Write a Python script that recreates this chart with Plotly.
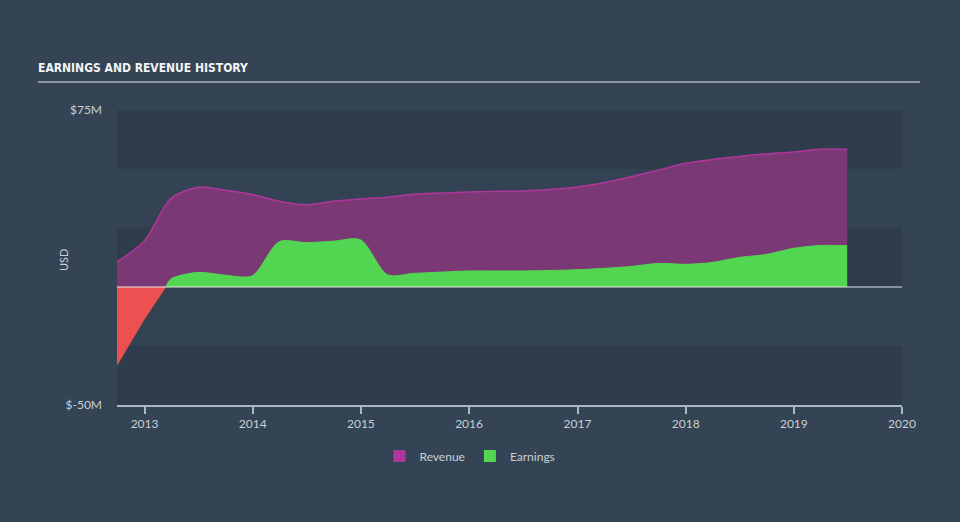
import plotly.graph_objects as go
import pandas as pd

# ---- data (USD millions), quarterly ----
dates = ["2012-09-30", "2012-12-31", "2013-03-31", "2013-06-30", "2013-09-30", "2013-12-31",
         "2014-03-31", "2014-06-30", "2014-09-30", "2014-12-31", "2015-03-31", "2015-06-30",
         "2015-09-30", "2015-12-31", "2016-03-31", "2016-06-30", "2016-09-30", "2016-12-31",
         "2017-03-31", "2017-06-30", "2017-09-30", "2017-12-31", "2018-03-31", "2018-06-30",
         "2018-09-30", "2018-12-31", "2019-03-31", "2019-06-30"]
revenue = [10.6, 19.5, 37.5, 42.3, 41.0, 39.2, 36.3, 34.8, 36.3, 37.3, 38.0, 39.3,
           39.8, 40.3, 40.5, 40.7, 41.3, 42.4, 44.2, 46.7, 49.5, 52.4, 54.0, 55.3,
           56.4, 57.2, 58.4, 58.4]
earnings = [-33.0, -13.6, 3.4, 6.2, 5.0, 4.8, 19.2, 18.8, 19.4, 20.0, 5.2, 5.8,
            6.3, 6.8, 6.8, 6.8, 7.0, 7.3, 7.9, 8.7, 10.0, 9.6, 10.4, 12.5,
            13.8, 16.4, 17.6, 17.5]

year_ticks = ["2013-01-01", "2014-01-01", "2015-01-01", "2016-01-01", "2017-01-01",
              "2018-01-01", "2019-01-01", "2020-01-01"]
year_labels = ["2013", "2014", "2015", "2016", "2017", "2018", "2019", "2020"]
y_ticks = [-50, 75]
y_labels = ["$-50M", "$75M"]

# ---- split earnings into negative / positive parts at the zero crossing ----
ts = pd.to_datetime(dates)
neg_x, neg_y, pos_x, pos_y = [], [], [], []
for i, (t, v) in enumerate(zip(ts, earnings)):
    if i > 0:
        pv, pt = earnings[i - 1], ts[i - 1]
        if (pv < 0) != (v < 0):
            frac = pv / (pv - v)
            tc = pt + (t - pt) * frac
            neg_x.append(tc); neg_y.append(0)
            pos_x.append(tc); pos_y.append(0)
    if v < 0:
        neg_x.append(t); neg_y.append(v)
    else:
        pos_x.append(t); pos_y.append(v)

BG = "#344454"
DARK = "#2e3c4b"
LIGHT = "#334353"
MAGENTA = "#b0369c"
PURPLE_FILL = "#7a3975"
GREEN = "#52d652"
RED = "#ec5050"
TXT = "#c9d0d7"
FONT = "Lato, Open Sans, sans-serif"

fig = go.Figure()
fig.add_trace(go.Scatter(x=ts, y=revenue, mode="lines", line=dict(color=MAGENTA, width=1.5, shape="spline", smoothing=0.8),
                         fill="tozeroy", fillcolor=PURPLE_FILL, showlegend=False, hoverinfo="skip"))
fig.add_trace(go.Scatter(x=neg_x, y=neg_y, mode="lines", line=dict(color=RED, width=1),
                         fill="tozeroy", fillcolor=RED, showlegend=False, hoverinfo="skip"))
fig.add_trace(go.Scatter(x=pos_x, y=pos_y, mode="lines", line=dict(color=GREEN, width=1, shape="spline", smoothing=0.8),
                         fill="tozeroy", fillcolor=GREEN, showlegend=False, hoverinfo="skip"))
# legend entries
fig.add_trace(go.Bar(x=[None], y=[None], name="Revenue", marker=dict(color=MAGENTA, line=dict(width=0))))
fig.add_trace(go.Bar(x=[None], y=[None], name="Earnings", marker=dict(color=GREEN, line=dict(width=0))))

# background bands
for lo, hi in [(50, 75), (0, 25), (-50, -25)]:
    fig.add_shape(type="rect", xref="paper", yref="y", x0=0, x1=1, y0=lo, y1=hi,
                  fillcolor=DARK, line=dict(width=0), layer="below")
# zero line
fig.add_shape(type="line", xref="paper", yref="y", x0=0, x1=1, y0=0, y1=0,
              line=dict(color="rgba(255,255,255,0.85)", width=1.2), layer="above")
# title underline
fig.add_shape(type="line", xref="paper", yref="paper", x0=(38 - 117) / 785, x1=(920 - 117) / 785,
              y0=1 + 28 / 295, y1=1 + 28 / 295, line=dict(color="#a9b2bb", width=1.5))

fig.add_annotation(text="USD", xref="paper", yref="paper", x=(63 - 117) / 785, y=(405 - 260) / 295,
                   textangle=-90, showarrow=False, font=dict(family=FONT, size=11, color=TXT),
                   xanchor="center", yanchor="middle")

fig.update_layout(
    width=960, height=522,
    margin=dict(l=117, r=58, t=110, b=117),
    paper_bgcolor=BG, plot_bgcolor=LIGHT,
    title=dict(text="<b>EARNINGS AND REVENUE HISTORY</b>", x=38 / 960, xanchor="left",
               y=1 - 68 / 522, yanchor="middle",
               font=dict(family="DejaVu Sans Condensed, sans-serif", size=12, color="#f2f4f6")),
    xaxis=dict(type="date", range=["2012-09-30", "2020-01-01"], tickvals=year_ticks, ticktext=year_labels,
               showgrid=False, zeroline=False, showline=True, linecolor="#a9b8c8", linewidth=1.5,
               ticks="outside", ticklen=7, tickcolor="#a9b8c8", tickwidth=1.5,
               tickfont=dict(family=FONT, size=12, color=TXT)),
    yaxis=dict(range=[-50, 75], tickvals=y_ticks, ticktext=y_labels, showgrid=False, zeroline=False,
               showline=False, ticks="", ticklabelstandoff=14, tickfont=dict(family=FONT, size=12, color=TXT)),
    legend=dict(orientation="h", x=(470 - 117) / 785, xanchor="center", y=(405 - 456) / 295, yanchor="middle",
                font=dict(family=FONT, size=12, color=TXT), bgcolor="rgba(0,0,0,0)"),
    showlegend=True,
)

fig.write_html("out.html", config={"displayModeBar": False},
               post_script="document.body.style.margin='0';document.body.style.padding='0';"
                           "document.body.style.background='" + BG + "';")
